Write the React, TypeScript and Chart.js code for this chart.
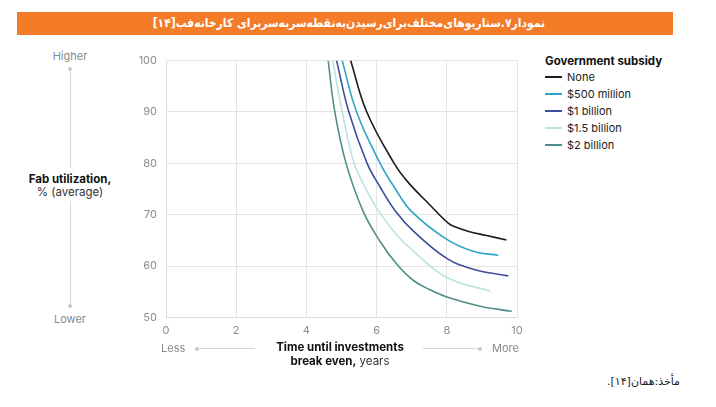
import React, { useEffect, useRef } from "react";
import { Chart, registerables } from "chart.js";

Chart.register(...registerables);

// Series labels and colours (legend order)
const seriesLabels = ["None", "$500 million", "$1 billion", "$1.5 billion", "$2 billion"];
const seriesColors = ["#1c1c1c", "#2ea5c7", "#3d4d9f", "#bce3e0", "#4f8f8b"];

// Years until break even (x) vs fab utilization % (y)
const noneX = [5.26, 5.72, 6.5, 6.9, 7.52, 8.05, 8.25, 8.6, 9.1, 9.7];
const noneY = [100, 90, 80, 76.3, 71.9, 68.3, 67.6, 66.8, 66.0, 65.1];
const m500X = [5.02, 5.43, 6.1, 6.5, 7.0, 8.0, 8.75, 9.47];
const m500Y = [100, 90, 80, 75.4, 70.6, 65.2, 62.9, 62.1];
const b1X = [4.86, 5.21, 5.73, 6.1, 6.55, 7.05, 8.0, 8.75, 9.75];
const b1Y = [100, 90, 80, 75.4, 70.6, 66.8, 61.5, 59.4, 58.1];
const b15X = [4.75, 5.02, 5.36, 5.7, 6.07, 6.57, 7.05, 8.0, 9.25];
const b15Y = [100, 90, 80, 75.0, 70.6, 66.1, 62.9, 57.8, 55.1];
const b2X = [4.62, 4.81, 5.13, 5.62, 6.1, 6.57, 7.05, 7.52, 8.0, 8.95, 9.85];
const b2Y = [100, 90, 80, 70.6, 64.8, 60.4, 57.2, 55.4, 54.0, 52.2, 51.2];

const seriesX = [noneX, m500X, b1X, b15X, b2X];
const seriesY = [noneY, m500Y, b1Y, b15Y, b2Y];

const titleText = "نمودار۷.سناریوهای\u200cمختلف\u200cبرای\u200cرسیدن\u200cبه\u200cنقطه\u200cسر\u200cبه\u200cسر\u200cبرای کارخانه\u200cفب[۱۴]";
const sourceText = "مأخذ:همان[۱۴].";

const latin = '"Inter", "Liberation Sans", sans-serif';
const persian = '"DejaVu Sans", sans-serif';

const BreakEvenChart: React.FC = () => {
    const canvasRef = useRef<HTMLCanvasElement | null>(null);

    useEffect(() => {
        if (!canvasRef.current) return;
        const chart = new Chart(canvasRef.current, {
            type: "line",
            data: {
                datasets: seriesLabels.map((label, i) => ({
                    label,
                    data: seriesX[i].map((x, j) => ({ x, y: seriesY[i][j] })),
                    borderColor: seriesColors[i],
                    borderWidth: 1.6,
                    pointRadius: 0,
                    fill: false,
                    tension: 0.4,
                })),
            },
            options: {
                animation: false,
                responsive: false,
                layout: { padding: { top: 12, right: 18, bottom: 0, left: 0 } },
                plugins: { legend: { display: false }, tooltip: { enabled: false } },
                scales: {
                    x: {
                        type: "linear",
                        min: 0,
                        max: 10,
                        ticks: { stepSize: 2, padding: 7, color: "#8c8c8c", font: { family: latin, size: 11 } },
                        grid: { color: "#e4e4e4", drawTicks: false },
                        border: { color: "#dcdcdc" },
                        afterFit: (scale: any) => {
                            scale.height = 27.5;
                        },
                    },
                    y: {
                        min: 50,
                        max: 100,
                        ticks: { stepSize: 10, padding: 9, color: "#8c8c8c", font: { family: latin, size: 11 } },
                        grid: { color: "#e4e4e4", drawTicks: false },
                        border: { color: "#dcdcdc" },
                        afterFit: (scale: any) => {
                            scale.width = 51;
                        },
                    },
                },
            },
        });
        return () => chart.destroy();
    }, []);

    return (
        <canvas
            ref={canvasRef}
            width={420}
            height={300}
            style={{ position: "absolute", left: 115, top: 45, width: 420, height: 300 }}
        />
    );
};

const App: React.FC = () => {
    const abs = (s: React.CSSProperties): React.CSSProperties => ({ position: "absolute", ...s });
    return (
        <div style={{ position: "absolute", left: 0, top: 0, width: 716, height: 407, background: "#fff", fontFamily: latin }}>
            {/* orange title banner */}
            <div
                dir="rtl"
                style={abs({
                    left: 17, top: 12, width: 656, height: 23, background: "#f47b28", color: "#fff",
                    fontFamily: persian, fontWeight: "bold", fontStretch: "condensed", fontSize: 12, lineHeight: "23px",
                    textAlign: "right", paddingRight: 128, boxSizing: "border-box", whiteSpace: "nowrap",
                })}
            >
                {titleText}
            </div>

            {/* left axis annotation */}
            <div style={abs({ left: 20, top: 49, width: 100, textAlign: "center", fontSize: 11, color: "#8a8a8a" })}>Higher</div>
            <div style={abs({ left: 69.5, top: 68, width: 1, height: 100, background: "#d6d6d6" })} />
            <div style={abs({ left: 68, top: 66.5, width: 4, height: 4, borderRadius: 2, background: "#c8c8c8" })} />
            <div style={abs({ left: 10, top: 173, width: 120, textAlign: "center", fontSize: 11.5, lineHeight: "13px", color: "#111" })}>
                <b>Fab utilization,</b>
                <br />
                <span style={{ color: "#333" }}>% (average)</span>
            </div>
            <div style={abs({ left: 69.5, top: 201, width: 1, height: 105, background: "#d6d6d6" })} />
            <div style={abs({ left: 68, top: 304, width: 4, height: 4, borderRadius: 2, background: "#c8c8c8" })} />
            <div style={abs({ left: 20, top: 312, width: 100, textAlign: "center", fontSize: 11, color: "#8a8a8a" })}>Lower</div>

            <BreakEvenChart />

            {/* bottom axis annotation */}
            <div style={abs({ left: 161, top: 341, fontSize: 11, color: "#8a8a8a" })}>Less</div>
            <div style={abs({ left: 195, top: 346.5, width: 4, height: 4, borderRadius: 2, background: "#c8c8c8" })} />
            <div style={abs({ left: 197, top: 348, width: 58, height: 1, background: "#d6d6d6" })} />
            <div style={abs({ left: 240, top: 341, width: 200, textAlign: "center", fontSize: 11.5, lineHeight: "13.5px", color: "#111" })}>
                <b>Time until investments</b>
                <br />
                <b>break even,</b> <span style={{ color: "#333" }}>years</span>
            </div>
            <div style={abs({ left: 423, top: 348, width: 57, height: 1, background: "#d6d6d6" })} />
            <div style={abs({ left: 478, top: 346.5, width: 4, height: 4, borderRadius: 2, background: "#c8c8c8" })} />
            <div style={abs({ left: 492, top: 341, fontSize: 11, color: "#8a8a8a" })}>More</div>

            {/* legend */}
            <div style={abs({ left: 545, top: 54, fontSize: 11.5, fontWeight: "bold", color: "#111", whiteSpace: "nowrap" })}>
                Government subsidy
            </div>
            {seriesLabels.map((label, i) => (
                <div key={label} style={abs({ left: 545, top: 70 + i * 16.9, height: 14, display: "flex", alignItems: "center", whiteSpace: "nowrap" })}>
                    <span style={{ display: "inline-block", width: 17, height: 2, background: seriesColors[i], marginRight: 5 }} />
                    <span style={{ fontSize: 11, color: "#222" }}>{label}</span>
                </div>
            ))}

            {/* source */}
            <div dir="rtl" style={abs({ left: 560, top: 375, width: 120, textAlign: "right", fontFamily: persian, fontSize: 11, color: "#222", whiteSpace: "nowrap" })}>
                {sourceText}
            </div>
        </div>
    );
};

export default App;
